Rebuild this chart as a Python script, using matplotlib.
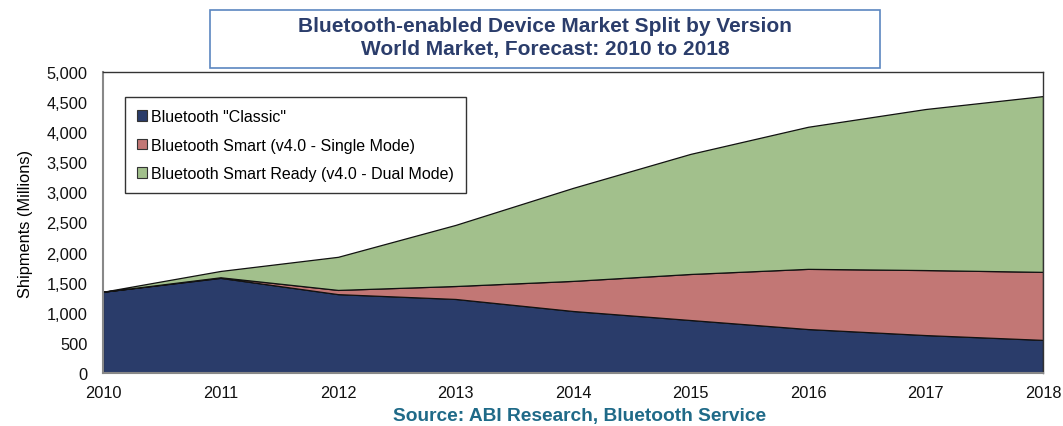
import numpy as np
import matplotlib.pyplot as plt
from matplotlib.patches import Patch, Rectangle
from matplotlib.ticker import FuncFormatter

plt.rcParams['font.family'] = ['Liberation Sans', 'DejaVu Sans']

years = [2010, 2011, 2012, 2013, 2014, 2015, 2016, 2017, 2018]
classic = [1350, 1580, 1310, 1230, 1030, 880, 730, 630, 550]
smart = [0, 10, 70, 215, 500, 765, 1000, 1080, 1130]
smart_ready = [0, 105, 550, 1015, 1545, 1995, 2360, 2675, 2920]

labels = ['Bluetooth "Classic"', 'Bluetooth Smart (v4.0 - Single Mode)',
          'Bluetooth Smart Ready (v4.0 - Dual Mode)']
colors = ['#2A3C6A', '#C27775', '#A2C08C']

W, H = 1063, 427
fig = plt.figure(figsize=(W / 100, H / 100), dpi=100)
ax = fig.add_axes([103 / W, 1 - 374 / H, 940 / W, 301 / H])

ax.stackplot(years, classic, smart, smart_ready, colors=colors,
             edgecolor='#111111', linewidth=0.9)

ax.set_xlim(2010, 2018)
ax.set_ylim(0, 5000)
ax.set_xticks(years)
ax.set_yticks(np.arange(0, 5001, 500))
ax.yaxis.set_major_formatter(FuncFormatter(lambda v, p: '{:,.0f}'.format(v)))
ax.tick_params(length=0, labelsize=11.8, pad=11, colors='#111111')
ax.tick_params(axis='x', pad=9)
for s in ['left', 'bottom']:
    ax.spines[s].set_color('#888888')
    ax.spines[s].set_linewidth(1.5)
for s in ['top', 'right']:
    ax.spines[s].set_color('#333333')
    ax.spines[s].set_linewidth(1.0)

ax.set_ylabel('Shipments (Millions)', fontsize=11.8, labelpad=10)

handles = [Patch(facecolor=c, edgecolor='#333333', linewidth=0.8) for c in colors]
leg = ax.legend(handles, labels, loc='upper left',
                bbox_to_anchor=(22 / 940, 276 / 301), fontsize=11.5,
                frameon=True, fancybox=False, edgecolor='black',
                handlelength=0.65, handleheight=0.65, handletextpad=0.25,
                labelspacing=0.85, borderpad=0.75, borderaxespad=0)
leg.get_frame().set_linewidth(1.0)

# title box
fig.add_artist(Rectangle((210 / W, 1 - 69 / H), 670 / W, 58 / H,
                         transform=fig.transFigure, facecolor='white',
                         edgecolor='#5B86C0', linewidth=1.2))
fig.text(545 / W, 1 - 38 / H,
         'Bluetooth-enabled Device Market Split by Version\nWorld Market, Forecast: 2010 to 2018',
         ha='center', va='center', fontsize=15, fontweight='bold', color='#2B3D6B',
         linespacing=1.2)

fig.text(580 / W, 1 - 417 / H, 'Source: ABI Research, Bluetooth Service',
         ha='center', va='center', fontsize=13.8, fontweight='bold', color='#1F6A88')

fig.savefig('out.png', dpi=100)
